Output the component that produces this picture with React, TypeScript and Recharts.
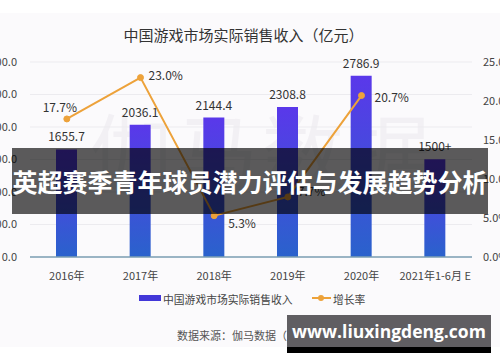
import React from 'react';
import {
  ComposedChart,
  Bar,
  Line,
  XAxis,
  YAxis,
  CartesianGrid,
  LabelList,
} from 'recharts';

// values
const years = ['2016年', '2017年', '2018年', '2019年', '2020年', '2021年1-6月 E'];
const revenue = [1655.7, 2036.1, 2144.4, 2308.8, 2786.9, 1504.9];
const revenueLabels = ['1655.7', '2036.1', '2144.4', '2308.8', '2786.9', '1500+'];
const growth: (number | null)[] = [17.7, 23.0, 5.3, 7.7, 20.7, null];
const leftTicks = [0, 500, 1000, 1500, 2000, 2500, 3000];
const rightTicks = [0, 5, 10, 15, 20, 25];

const data = years.map((year, i) => ({
  year,
  revenue: revenue[i],
  label: revenueLabels[i],
  growth: growth[i],
}));

const FONT = '"Noto Sans CJK SC", "Noto Sans", sans-serif';
const ORANGE = '#eda23a';

// label placement next to each growth point
const growthOffsets = [
  [-7, -12, 'middle'],
  [8, -3, 'start'],
  [14, 7, 'start'],
  [10, -6, 'start'],
  [13, 1, 'start'],
];

const GrowthLabel = (props: any) => {
  const { x, y, value, index } = props;
  if (value == null) return null;
  const [dx, dy, anchor] = growthOffsets[index] || [10, 0, 'start'];
  return (
    <text
      x={x + (dx as number)}
      y={y + (dy as number)}
      textAnchor={anchor as any}
      dominantBaseline="central"
      fontSize={12}
      fill="#333"
      fontFamily={FONT}
    >
      {Number(value).toFixed(1)}%
    </text>
  );
};

export default function App() {
  return (
    <div
      style={{
        position: 'absolute',
        left: 0,
        top: 0,
        width: 500,
        height: 362,
        overflow: 'hidden',
        background: '#ffffff',
        fontFamily: FONT,
      }}
    >
      <div style={{ position: 'absolute', left: 0, top: 13, width: 500, height: 334, background: '#fbfafc' }} />

      {/* faint watermark */}
      <div
        style={{
          position: 'absolute',
          left: 90,
          top: 88,
          fontSize: 82,
          color: '#f2f0f4',
          letterSpacing: 4,
          whiteSpace: 'nowrap',
        }}
      >
        伽马数据
      </div>

      <div
        style={{
          position: 'absolute',
          left: 0,
          width: 487,
          top: 24,
          textAlign: 'center',
          fontSize: 15,
          color: '#333',
          whiteSpace: 'nowrap',
        }}
      >
        中国游戏市场实际销售收入（亿元）
      </div>

      <div style={{ position: 'absolute', left: 0, top: 0 }}>
        <ComposedChart
          width={500}
          height={362}
          data={data}
          margin={{ top: 62, right: 0, left: 0, bottom: 75 }}
        >
          <defs>
            <linearGradient id="barGrad" x1="0" y1="0" x2="0" y2="1">
              <stop offset="0%" stopColor="#5a38ea" />
              <stop offset="100%" stopColor="#2a62cc" />
            </linearGradient>
          </defs>
          <CartesianGrid yAxisId="left" vertical={false} stroke="#ecebef" />
          <XAxis
            dataKey="year"
            interval={0}
            tickLine={false}
            axisLine={{ stroke: '#7d9fb3', strokeWidth: 1.5 }}
            tickMargin={9}
            height={30}
            tick={{ fontSize: 11, fill: '#444', fontFamily: FONT }}
          />
          <YAxis
            yAxisId="left"
            domain={[0, 3000]}
            ticks={leftTicks}
            tickFormatter={(v: number) => v.toFixed(1)}
            axisLine={false}
            tickLine={false}
            width={30}
            tickMargin={7}
            tick={{ fontSize: 11, fill: '#444', fontFamily: FONT }}
          />
          <YAxis
            yAxisId="right"
            orientation="right"
            domain={[0, 25]}
            ticks={rightTicks}
            tickFormatter={(v: number) => v.toFixed(1) + '%'}
            axisLine={false}
            tickLine={false}
            width={28}
            tickMargin={5}
            tick={{ fontSize: 11, fill: '#444', fontFamily: FONT }}
          />
          <Bar
            yAxisId="left"
            dataKey="revenue"
            barSize={21}
            fill="url(#barGrad)"
            isAnimationActive={false}
          >
            <LabelList
              dataKey="label"
              position="top"
              offset={8}
              style={{ fontSize: 12, fill: '#333', fontFamily: FONT }}
            />
          </Bar>
          <Line
            yAxisId="right"
            type="linear"
            dataKey="growth"
            stroke={ORANGE}
            strokeWidth={2}
            dot={{ r: 3, fill: ORANGE, stroke: ORANGE, strokeWidth: 1 }}
            isAnimationActive={false}
          >
            <LabelList dataKey="growth" content={<GrowthLabel />} />
          </Line>
        </ComposedChart>
      </div>

      {/* legend */}
      <div style={{ position: 'absolute', left: 139, top: 295, width: 22, height: 6, background: '#4237d8' }} />
      <div style={{ position: 'absolute', left: 163, top: 291, fontSize: 10.8, color: '#444', whiteSpace: 'nowrap' }}>
        中国游戏市场实际销售收入
      </div>
      <div style={{ position: 'absolute', left: 312, top: 297, width: 19, height: 2, background: ORANGE }} />
      <div style={{ position: 'absolute', left: 318, top: 295, width: 6, height: 6, borderRadius: 3, background: ORANGE }} />
      <div style={{ position: 'absolute', left: 333, top: 291, fontSize: 10.8, color: '#444', whiteSpace: 'nowrap' }}>
        增长率
      </div>

      <div style={{ position: 'absolute', left: 177, top: 327, fontSize: 11, color: '#555', whiteSpace: 'nowrap' }}>
        数据来源：伽马数据（CNG）
      </div>

      {/* overlay banner */}
      <div
        style={{
          position: 'absolute',
          left: 12,
          top: 148,
          width: 476,
          height: 66,
          background: 'rgba(0,0,0,0.64)',
          display: 'flex',
          alignItems: 'center',
          justifyContent: 'center',
          color: '#fff',
          fontSize: 25,
          fontWeight: 700,
          whiteSpace: 'nowrap',
        }}
      >
        英超赛季青年球员潜力评估与发展趋势分析
      </div>

      {/* site stamp */}
      <div style={{ position: 'absolute', left: 287, top: 347, width: 204, height: 6, background: '#000' }} />
      <div
        style={{
          position: 'absolute',
          left: 287,
          top: 315,
          width: 204,
          height: 32,
          background: '#605e62',
          color: '#fff',
          fontSize: 17.5,
          fontWeight: 700,
          display: 'flex',
          alignItems: 'center',
          justifyContent: 'center',
          fontFamily: '"Open Sans", "DejaVu Sans", sans-serif',
          whiteSpace: 'nowrap',
        }}
      >
        www.liuxingdeng.com
      </div>
    </div>
  );
}
